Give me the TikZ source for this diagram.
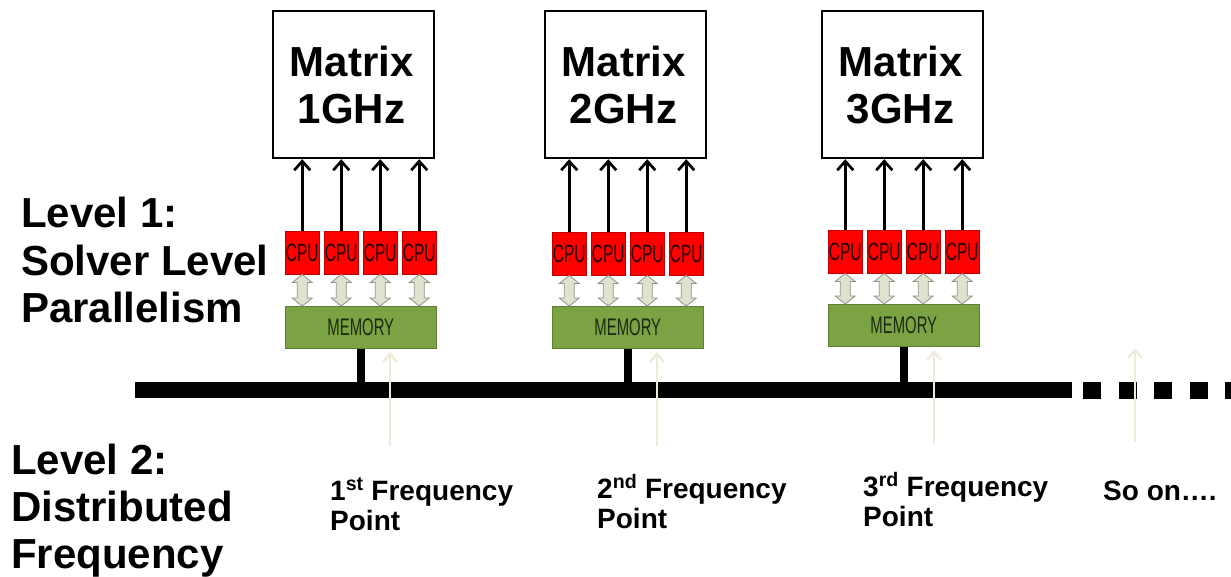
\documentclass[tikz,border=0pt]{standalone}
\usepackage{fontspec}
\setmainfont{Liberation Sans}
\newfontfamily\narrowfont[FakeStretch=0.62]{Liberation Sans}
\usetikzlibrary{arrows.meta,calc}
\definecolor{cpured}{HTML}{FF0000}
\definecolor{cpuedge}{HTML}{C00000}
\definecolor{memgreen}{HTML}{7BA343}
\definecolor{memedge}{HTML}{5E7F33}
\definecolor{memtext}{HTML}{1C2A10}
\definecolor{dblfill}{HTML}{DEE3D0}
\definecolor{dbledge}{HTML}{8F9486}
\definecolor{faint}{HTML}{EEEBDA}
\tikzset{
  matbox/.style={draw=black, line width=2.2pt, fill=white, minimum width=161pt, minimum height=147pt, inner sep=0pt, anchor=north west},
  mattext/.style={font=\bfseries\fontsize{42}{47}\selectfont, align=center, inner sep=0pt},
  cpubox/.style={draw=cpuedge, line width=0.5pt, fill=cpured, minimum width=34pt, minimum height=43pt, inner sep=0pt, anchor=north west, font=\narrowfont\fontsize{25}{25}\selectfont, text=black!85!red},
  membox/.style={draw=memedge, line width=0.6pt, fill=memgreen, minimum width=151pt, minimum height=42pt, inner sep=0pt, anchor=north west, font=\narrowfont\fontsize{24}{24}\selectfont, text=memtext},
  uparrow/.style={draw=black, line width=2.7pt, -{Straight Barb[length=9pt,width=16pt,line width=2.7pt]}},
  dblarrow/.style={draw=dbledge, line width=0.8pt, fill=dblfill, line join=miter},
  stub/.style={draw=black, line width=8pt},
  busline/.style={draw=black, line width=16pt},
  busdash/.style={draw=black, line width=17pt, dash pattern=on 18pt off 17.5pt},
  faintarrow/.style={draw=faint, line width=2.5pt, -{Straight Barb[length=8pt,width=14pt,line width=2.5pt]}},
  biglabel/.style={font=\bfseries\fontsize{42}{47}\selectfont, align=left, inner sep=0pt, anchor=base west},
  freqlabel/.style={font=\bfseries\fontsize{28}{30}\selectfont, align=left, inner sep=0pt, anchor=base west}
}
\begin{document}
\begin{tikzpicture}[x=1pt,y=-1pt]
\useasboundingbox (0,0) rectangle (1231,577);
% bus
\coordinate (busL) at (135,390);
\coordinate (busR) at (1072,390);
\coordinate (dashL) at (1083,390);
\coordinate (dashR) at (1231,390);
\draw[busline] (busL) -- (busR);
\draw[busdash] (dashL) -- (dashR);
\foreach \g/\gx/\cy/\my/\bx in {1/285/231/306/272, 2/552/232/306/544, 3/828/230/304/821} {
  \node[matbox] (m\g) at (\bx,10) {};
  \node[mattext] (mt\g) at ($(m\g.center)+(-2,0)$) {Matrix\\\g GHz};
  \node[membox] (mem\g) at (\gx,\my) {MEMORY};
  \draw[stub] (mem\g.south) -- (mem\g.south |- busL);
  \foreach \k in {1,...,4} {
    \node[cpubox] (c\g\k) at ({\gx+39*(\k-1)},\cy) {CPU};
    \draw[uparrow] (c\g\k.north) -- (c\g\k.north |- m\g.south);
    \path (c\g\k.south) coordinate (t) (c\g\k.south |- mem\g.north) coordinate (b);
    \draw[dblarrow] (t) -- ([xshift=10pt,yshift=-8pt]t) -- ([xshift=5pt,yshift=-8pt]t)
      -- ([xshift=5pt,yshift=8pt]b) -- ([xshift=10pt,yshift=8pt]b) -- (b)
      -- ([xshift=-10pt,yshift=8pt]b) -- ([xshift=-5pt,yshift=8pt]b)
      -- ([xshift=-5pt,yshift=-8pt]t) -- ([xshift=-10pt,yshift=-8pt]t) -- cycle;
  }
}
% faint arrows
\foreach \i/\x/\yb/\yt in {1/390/446/352, 2/657/446/352, 3/934/444/350, 4/1135/442/348} {
  \coordinate (fb\i) at (\x,\yb);
  \coordinate (ft\i) at (\x,\yt);
  \draw[faintarrow] (fb\i) -- (ft\i);
}
% labels (base anchor = baseline of last line)
\node[biglabel] (lv1) at (21,322) {Level 1:\\Solver Level\\Parallelism};
\node[biglabel] (lv2) at (11,568) {Level 2:\\Distributed\\Frequency};
\node[freqlabel] (f1) at (330,530) {1\textsuperscript{st} Frequency\\Point};
\node[freqlabel] (f2) at (597,528) {2\textsuperscript{nd} Frequency\\Point};
\node[freqlabel] (f3) at (863,526) {3\textsuperscript{rd} Frequency\\Point};
\node[freqlabel] (f4) at (1103,500) {So on….};
\end{tikzpicture}
\end{document}
